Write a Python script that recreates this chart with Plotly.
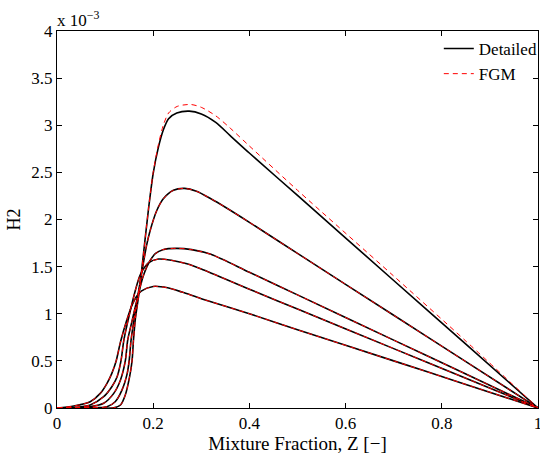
import plotly.graph_objects as go

# Mixture fraction Z and H2 mass fraction (in units of 1e-3)
z1 = [0, 0.07, 0.118, 0.132, 0.142, 0.151, 0.156, 0.159, 0.163, 0.17, 0.176, 0.19, 0.2, 0.211, 0.221, 0.232, 0.249, 0.275, 0.3, 0.33, 0.36, 0.401, 0.5, 0.7, 0.85, 1.0]
h1 = [0, 0.0, 0.002, 0.032, 0.138, 0.332, 0.499, 0.721, 0.95, 1.2, 1.46, 2.1, 2.49, 2.77, 2.95, 3.07, 3.13, 3.15, 3.12, 3.03, 2.89, 2.70, 2.255, 1.353, 0.677, 0]

z1f = [0, 0.07, 0.118, 0.132, 0.142, 0.151, 0.156, 0.159, 0.163, 0.17, 0.176, 0.19, 0.2, 0.211, 0.221, 0.232, 0.25, 0.278, 0.3, 0.33, 0.36, 0.4, 0.5, 0.7, 0.85, 1.0]
h1f = [0, 0.0, 0.002, 0.032, 0.138, 0.332, 0.499, 0.721, 0.95, 1.2, 1.46, 2.1, 2.5, 2.8, 3.0, 3.13, 3.2, 3.22, 3.19, 3.1, 2.97, 2.78, 2.31, 1.40, 0.71, 0]

z2 = [0, 0.07, 0.104, 0.121, 0.135, 0.146, 0.150, 0.154, 0.162, 0.17, 0.179, 0.186, 0.193, 0.207, 0.221, 0.242, 0.265, 0.29, 0.32, 0.35, 0.4, 0.5, 0.7, 0.85, 1.0]
h2 = [0, 0.003, 0.014, 0.067, 0.19, 0.368, 0.499, 0.721, 1.0, 1.25, 1.52, 1.72, 1.87, 2.09, 2.22, 2.31, 2.33, 2.30, 2.22, 2.13, 1.97, 1.64, 0.984, 0.492, 0]

z3 = [0, 0.04, 0.069, 0.097, 0.118, 0.132, 0.142, 0.147, 0.155, 0.165, 0.178, 0.186, 0.193, 0.205, 0.22, 0.249, 0.28, 0.32, 0.4, 0.5, 0.7, 0.85, 1.0]
h3 = [0, 0.003, 0.014, 0.05, 0.155, 0.297, 0.499, 0.721, 0.9, 1.12, 1.38, 1.49, 1.56, 1.64, 1.68, 1.694, 1.68, 1.63, 1.44, 1.2, 0.72, 0.36, 0]

z4 = [0, 0.035, 0.069, 0.097, 0.114, 0.125, 0.133, 0.139, 0.15, 0.163, 0.172, 0.179, 0.19, 0.211, 0.24, 0.27, 0.3, 0.4, 0.5, 0.7, 0.85, 1.0]
h4 = [0, 0.005, 0.032, 0.12, 0.226, 0.332, 0.499, 0.721, 0.98, 1.25, 1.40, 1.47, 1.54, 1.58, 1.565, 1.53, 1.475, 1.26, 1.05, 0.63, 0.315, 0]

z5 = [0, 0.035, 0.069, 0.09, 0.104, 0.114, 0.123, 0.132, 0.145, 0.155, 0.165, 0.175, 0.2, 0.23, 0.26, 0.3, 0.4, 0.5, 0.7, 0.85, 1.0]
h5 = [0, 0.021, 0.067, 0.155, 0.262, 0.368, 0.499, 0.70, 0.93, 1.08, 1.18, 1.24, 1.29, 1.275, 1.23, 1.16, 1.0, 0.83, 0.50, 0.25, 0]

detailed = [(z1, h1), (z2, h2), (z3, h3), (z4, h4), (z5, h5)]
fgm = [(z1f, h1f), (z2, h2), (z3, h3), (z4, h4), (z5, h5)]

x_ticks = [0, 0.2, 0.4, 0.6, 0.8, 1]
y_ticks = [0, 0.5, 1, 1.5, 2, 2.5, 3, 3.5, 4]

FONT = "Liberation Serif, Times New Roman, serif"

fig = go.Figure()
for i, (z, h) in enumerate(detailed):
    fig.add_trace(go.Scatter(x=z, y=h, mode="lines", name="Detailed",
                             line=dict(color="black", width=1.6, shape="spline", smoothing=0.8),
                             showlegend=(i == 0), legendrank=1))
for i, (z, h) in enumerate(fgm):
    fig.add_trace(go.Scatter(x=z, y=h, mode="lines", name="FGM",
                             line=dict(color="red", width=1, dash="5px,4px", shape="spline", smoothing=0.8),
                             showlegend=(i == 0), legendrank=2))

axis_common = dict(showline=True, linecolor="black", linewidth=1, mirror="ticks",
                   ticks="inside", ticklen=5, tickcolor="black", showgrid=False,
                   zeroline=False, ticklabeloverflow="allow", automargin=False,
                   tickfont=dict(family=FONT, size=17, color="black"))

fig.update_layout(
    width=540, height=454,
    margin=dict(l=57, r=2, t=31, b=46, autoexpand=False),
    paper_bgcolor="white", plot_bgcolor="white",
    font=dict(family=FONT, size=17, color="black"),
    xaxis=dict(range=[0, 1], tickvals=x_ticks, ticktext=[f"{v:g}" for v in x_ticks],
               title=dict(text="Mixture Fraction, Z [−]", standoff=0, font=dict(family=FONT, size=19)),
               **axis_common),
    yaxis=dict(range=[0, 4], tickvals=y_ticks, ticktext=[f"{v:g}" for v in y_ticks],
               title=dict(text="H2", standoff=6, font=dict(family=FONT, size=18)),
               **axis_common),
    legend=dict(x=1.01, y=1, xanchor="right", yanchor="top", bgcolor="rgba(0,0,0,0)",
                borderwidth=0, font=dict(family=FONT, size=17), tracegroupgap=0,
                itemwidth=30),
    showlegend=True,
)

fig.add_annotation(text="x 10<sup>−3</sup>", xref="paper", yref="paper", x=0, y=1,
                   xanchor="left", yanchor="bottom", showarrow=False,
                   font=dict(family=FONT, size=17, color="black"), xshift=-2, yshift=-1)

fig.write_html("out.html")
